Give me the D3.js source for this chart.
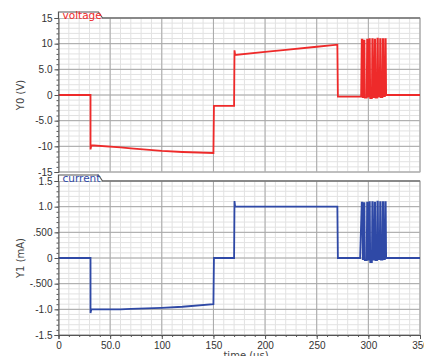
<!DOCTYPE html>
<html>
<head>
<meta charset="utf-8">
<script src="https://cdn.jsdelivr.net/npm/d3@7"></script>
<style>
  body { margin: 0; background: #fff; }
  svg { display: block; font-family: "DejaVu Sans", Verdana, sans-serif; }
</style>
</head>
<body>
<svg id="chart" width="424" height="356"></svg>
<script>
// x axis (time in us)
const timeDomain = [0, 350];
const timeTicks = [0, 50, 100, 150, 200, 250, 300, 350];
const timeLabels = ["0", "50.0", "100", "150", "200", "250", "300", "350"];

// voltage panel
const voltageDomain = [-15, 15];
const voltageTicks = [-15, -10, -5, 0, 5, 10, 15];
const voltageLabels = ["-15", "-10", "-5.0", "0", "5.0", "10", "15"];

// current panel
const currentDomain = [-1.5, 1.5];
const currentTicks = [-1.5, -1.0, -0.5, 0, 0.5, 1.0, 1.5];
const currentLabels = ["-1.5", "-1.0", "-.500", "0", ".500", "1.0", "1.5"];

// voltage trace [time, V]
const voltagePoints = [
  [0, 0], [31, 0], [31, -10.6], [31.8, -9.8], [60, -10.2], [70, -10.4], [100, -10.9],
  [120, -11.1], [150, -11.3], [150.5, -2.1], [170, -2.1], [170.4, 8.7], [171, 7.8],
  [200, 8.4], [220, 8.8], [250, 9.4], [270, 9.8], [270.5, -0.3], [293, -0.3],
  [293.6, 10.8], [294.2, 10.8], [294.6, -0.4], [295.4, -0.4], [295.8, 10.6], [296.2, 10.6], [296.6, -0.5],
  [298.4, -0.5], [298.8, 10.8], [299.2, 10.8], [299.6, -0.3],
  [300.6, -0.3], [301.0, 10.9], [301.4, 10.9], [301.8, -0.6],
  [303.4, -0.6], [303.8, 10.9], [304.2, 10.9], [304.6, -0.4],
  [305.8, -0.4], [306.2, 10.8], [306.6, 10.8], [307.0, -0.5],
  [308.4, -0.5], [308.8, 11.0], [309.2, 11.0], [309.6, -0.3],
  [311.0, -0.3], [311.4, 10.9], [311.8, 10.9], [312.2, -0.4],
  [313.6, -0.4], [314.0, 10.9], [314.4, 10.9], [314.8, -0.2],
  [316.0, -0.2], [316.4, 10.9], [316.8, 10.9], [317.2, 0], [350, 0]
];

// current trace [time, mA]
const currentPoints = [
  [0, 0], [31, 0], [31, -1.07], [31.8, -1.0], [60, -1.0], [70, -0.99], [100, -0.97],
  [120, -0.95], [150, -0.9], [150.5, 0], [170, 0], [170.4, 1.11], [171, 1.0],
  [220, 1.0], [270, 1.0], [270.5, 0], [292, 0],
  [293.6, 1.08], [294.2, 1.08], [294.6, -0.02], [295.4, -0.02], [295.8, 1.07], [296.2, 1.07], [296.6, -0.04],
  [298.4, -0.04], [298.8, 1.08], [299.2, 1.08], [299.6, -0.03],
  [300.6, -0.03], [301.0, 1.09], [301.4, 1.09], [301.8, -0.08],
  [303.4, -0.08], [303.8, 1.09], [304.2, 1.09], [304.6, -0.03],
  [305.8, -0.03], [306.2, 1.08], [306.6, 1.08], [307.0, -0.04],
  [308.4, -0.04], [308.8, 1.1], [309.2, 1.1], [309.6, -0.02],
  [311.0, -0.02], [311.4, 1.09], [311.8, 1.09], [312.2, -0.03],
  [313.6, -0.03], [314.0, 1.09], [314.4, 1.09], [314.8, -0.02],
  [316.0, -0.02], [316.4, 1.09], [316.8, 1.09], [317.2, 0], [350, 0]
];

const svg = d3.select("#chart");
const plotLeft = 58.5, plotRight = 420;

// shared x scale
const x = d3.scaleLinear().domain(timeDomain).range([plotLeft, plotRight]);

function drawPanel(opts) {
  // opts: top, bottom, domain, ticks, labels, minorStep, points, color, name, yTitle, showX
  const y = d3.scaleLinear().domain(opts.domain).range([opts.bottom, opts.top]);
  const g = svg.append("g");

  // minor grid
  const minorY = d3.range(opts.domain[0], opts.domain[1] + opts.minorStep / 2, opts.minorStep);
  const minorX = d3.range(0, 351, 10);
  g.selectAll(".mgx").data(minorX).enter().append("line")
    .attr("x1", d => x(d)).attr("x2", d => x(d))
    .attr("y1", opts.top).attr("y2", opts.bottom)
    .attr("stroke", "#e2e2e2").attr("stroke-width", 1);
  g.selectAll(".mgy").data(minorY).enter().append("line")
    .attr("x1", plotLeft).attr("x2", plotRight)
    .attr("y1", d => y(d)).attr("y2", d => y(d))
    .attr("stroke", "#e2e2e2").attr("stroke-width", 1);

  // major grid
  g.selectAll(".gx").data(timeTicks).enter().append("line")
    .attr("x1", d => x(d)).attr("x2", d => x(d))
    .attr("y1", opts.top).attr("y2", opts.bottom)
    .attr("stroke", "#a8a8a8").attr("stroke-width", 1);
  g.selectAll(".gy").data(opts.ticks).enter().append("line")
    .attr("x1", plotLeft).attr("x2", plotRight)
    .attr("y1", d => y(d)).attr("y2", d => y(d))
    .attr("stroke", "#a8a8a8").attr("stroke-width", 1);

  // frame
  g.append("rect")
    .attr("x", plotLeft).attr("y", opts.top)
    .attr("width", plotRight - plotLeft).attr("height", opts.bottom - opts.top)
    .attr("fill", "none").attr("stroke", "#b0b0b0");

  // the trace
  const line = d3.line().x(d => x(d[0])).y(d => y(d[1]));
  g.append("path")
    .attr("d", line(opts.points))
    .attr("fill", "none")
    .attr("stroke", opts.color)
    .attr("stroke-width", 1.8)
    .attr("stroke-linejoin", "miter");

  // left axis with minor ticks
  const yAxis = d3.axisLeft(y).tickValues(opts.ticks)
    .tickFormat((d, i) => opts.labels[i]).tickSize(4).tickPadding(2);
  const ax = g.append("g").attr("transform", `translate(${plotLeft},0)`).call(yAxis);
  ax.select(".domain").attr("stroke", "#555");
  ax.selectAll(".tick line").attr("stroke", "#555");
  ax.selectAll("text").attr("fill", "#333").style("font-size", "10px");
  g.append("g").attr("transform", `translate(${plotLeft},0)`)
    .call(d3.axisLeft(y).tickValues(minorY).tickFormat("").tickSize(2))
    .call(s => s.select(".domain").remove())
    .selectAll("line").attr("stroke", "#555");

  // bottom axis
  if (opts.showX) {
    const xAxis = d3.axisBottom(x).tickValues(timeTicks)
      .tickFormat((d, i) => timeLabels[i]).tickSize(4).tickPadding(3);
    const bx = g.append("g").attr("transform", `translate(0,${opts.bottom})`).call(xAxis);
    bx.select(".domain").attr("stroke", "#555");
    bx.selectAll(".tick line").attr("stroke", "#555");
    bx.selectAll("text").attr("fill", "#333").style("font-size", "10px");
    g.append("g").attr("transform", `translate(0,${opts.bottom})`)
      .call(d3.axisBottom(x).tickValues(minorX).tickFormat("").tickSize(2))
      .call(s => s.select(".domain").remove())
      .selectAll("line").attr("stroke", "#555");
  }

  // name tab on the top edge
  const tabTop = opts.top - 6, tabRight = plotLeft + opts.tabWidth;
  g.append("path")
    .attr("d", `M${plotLeft},${opts.top} V${tabTop} H${tabRight} L${tabRight + 4},${opts.top} H${plotRight}`)
    .attr("fill", "#fff").attr("stroke", "#555").attr("stroke-width", 1.2);
  g.append("text")
    .attr("x", plotLeft + 4).attr("y", opts.top + 1)
    .attr("fill", opts.color).style("font-size", "10.5px")
    .text(opts.name);

  // y title
  g.append("text")
    .attr("transform", `translate(24,${(opts.top + opts.bottom) / 2}) rotate(-90)`)
    .attr("text-anchor", "middle")
    .attr("fill", "#444").style("font-size", "10px")
    .text(opts.yTitle);
}

drawPanel({
  top: 18, bottom: 172, domain: voltageDomain, ticks: voltageTicks, labels: voltageLabels,
  minorStep: 1, points: voltagePoints, color: "#ee2a2a", name: "voltage",
  yTitle: "Y0 (V)", showX: false, tabWidth: 40
});

drawPanel({
  top: 181, bottom: 335, domain: currentDomain, ticks: currentTicks, labels: currentLabels,
  minorStep: 0.1, points: currentPoints, color: "#2f49a6", name: "current",
  yTitle: "Y1 (mA)", showX: true, tabWidth: 40
});

// x title, cut off at the bottom edge like the original
svg.append("text")
  .attr("x", 246).attr("y", 359)
  .attr("text-anchor", "middle")
  .attr("fill", "#444").style("font-size", "10px")
  .text("time (us)");
</script>
</body>
</html>
